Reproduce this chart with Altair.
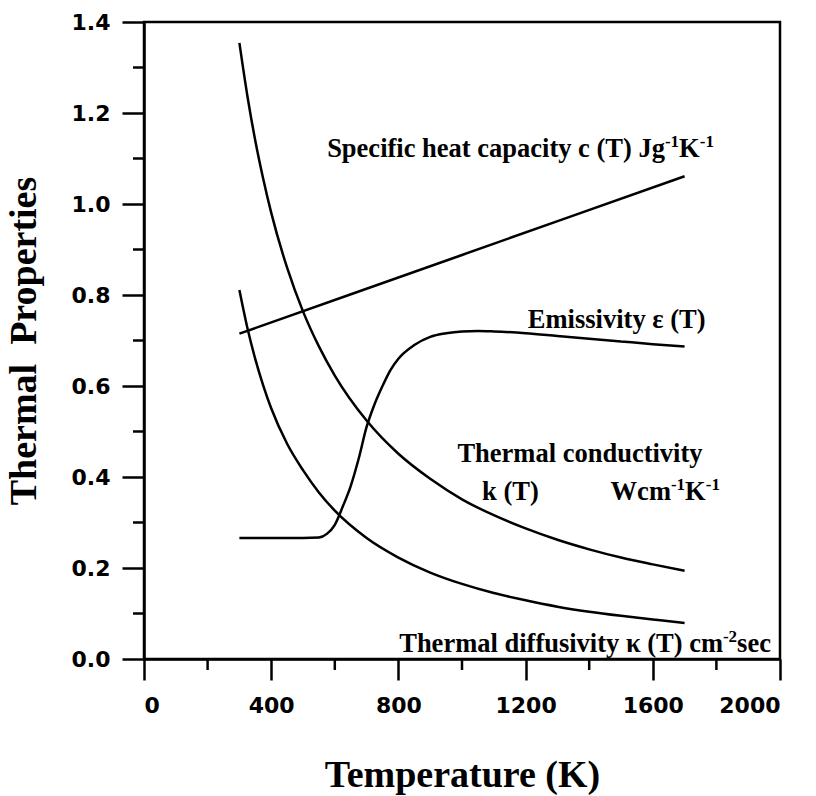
import altair as alt
import pandas as pd

# ---- data ----
T_main = [300, 325, 350, 375, 400, 450, 500, 550, 600, 700, 800, 900, 1000,
          1100, 1200, 1300, 1400, 1500, 1600, 1700]
k_vals = [1.354, 1.238, 1.139, 1.055, 0.981, 0.860, 0.764, 0.687, 0.623, 0.524,
          0.451, 0.396, 0.351, 0.316, 0.287, 0.262, 0.241, 0.223, 0.208, 0.194]
kappa_vals = [0.811, 0.728, 0.659, 0.601, 0.551, 0.473, 0.415, 0.366, 0.326, 0.266,
              0.223, 0.190, 0.165, 0.145, 0.129, 0.115, 0.104, 0.095, 0.087, 0.079]

T_eps = [300, 400, 500, 550, 575, 600, 625, 650, 675, 700, 725, 750, 775, 800,
         850, 900, 950, 1000, 1050, 1100, 1200, 1300, 1400, 1500, 1600, 1700]
eps_vals = [0.266, 0.266, 0.266, 0.267, 0.275, 0.295, 0.335, 0.380, 0.440, 0.510,
            0.560, 0.600, 0.635, 0.660, 0.690, 0.708, 0.716, 0.720, 0.721, 0.720,
            0.716, 0.710, 0.704, 0.698, 0.692, 0.687]

T_c = [300, 1000, 1700]
c_vals = [0.715, 0.888, 1.061]

x_major = [0, 400, 800, 1200, 1600, 2000]
x_minor = [200, 600, 1000, 1400, 1800]
y_major = [0.0, 0.2, 0.4, 0.6, 0.8, 1.0, 1.2, 1.4]
y_minor = [0.1, 0.3, 0.5, 0.7, 0.9, 1.1, 1.3]

rows = []
for name, ts, vs in [("k", T_main, k_vals), ("kappa", T_main, kappa_vals),
                     ("eps", T_eps, eps_vals), ("c", T_c, c_vals)]:
    for t, v in zip(ts, vs):
        rows.append({"series": name, "T": t, "v": v})
df = pd.DataFrame(rows)

W, H = 636, 637
xs = alt.Scale(domain=[0, 2000], nice=False, zero=False)
ys = alt.Scale(domain=[0, 1.4], nice=False, zero=False)

FONT = "Liberation Serif"
FS = 26.5
SUP = 17

lines = alt.Chart(df).mark_line(color="black", strokeWidth=2.5, interpolate="monotone").encode(
    x=alt.X("T:Q", scale=xs, axis=alt.Axis(
        values=x_major, format="d", tickSize=21, labelPadding=15, title="Temperature (K)",
        titleX=W / 2, titleY=127, titleBaseline="alphabetic", titleAnchor="middle")),
    y=alt.Y("v:Q", scale=ys, axis=alt.Axis(
        values=y_major, format=".1f", tickSize=22, labelPadding=12,
        title="Thermal\u00a0 Properties", titleX=-109, titleY=H / 2,
        titleBaseline="alphabetic", titleAngle=270)),
    detail="series:N",
)

mx = alt.Chart(pd.DataFrame({"T": x_minor})).mark_rule(color="black", strokeWidth=2.5).encode(
    x=alt.X("T:Q", scale=xs), y=alt.value(H), y2=alt.value(H + 11))
my = alt.Chart(pd.DataFrame({"v": y_minor})).mark_rule(color="black", strokeWidth=2.5).encode(
    y=alt.Y("v:Q", scale=ys), x=alt.value(0), x2=alt.value(-11))

# Times-Bold advance widths (per 1000 em) for layout of rich labels
WID = {" ": 250, "S": 556, "p": 556, "e": 444, "c": 444, "i": 278, "f": 333, "h": 556,
       "a": 500, "t": 333, "y": 500, "(": 333, ")": 333, "T": 667, "J": 500, "g": 500,
       "-": 333, "1": 500, "2": 500, "K": 778, "E": 667, "m": 833, "s": 389, "v": 500,
       "\u03b5": 440, "\u03ba": 550, "l": 278, "o": 500, "n": 556, "d": 556, "u": 556,
       "r": 444, "k": 556, "W": 1000}


def seg_width(text, size):
    return sum(WID.get(ch, 500) for ch in text) * size / 1000.0


def rich(segments, t, v, anchor="center"):
    """segments: list of (text, is_superscript)"""
    total = sum(seg_width(s, SUP if sup else FS) for s, sup in segments)
    off = {"center": -total / 2, "left": 0, "right": -total}[anchor]
    out = []
    for s, sup in segments:
        size = SUP if sup else FS
        out.append(alt.Chart(pd.DataFrame({"a": [0]})).mark_text(
            font=FONT, fontSize=size, fontWeight="bold", color="black",
            align="left", baseline="alphabetic", dx=off, dy=-10 if sup else 0).encode(
            x=alt.datum(t, scale=xs), y=alt.datum(v, scale=ys),
            text=alt.value(s.replace(" ", "\u00a0"))))
        off += seg_width(s, size)
    return out


labels = []
labels += rich([("Specific heat capacity c (T) Jg", False), ("-1", True), ("K", False), ("-1", True)],
               1184, 1.103)
labels += rich([("Emissivity \u03b5 (T)", False)], 1487, 0.7275)
labels += rich([("Thermal conductivity", False)], 1371, 0.432)
labels += rich([("k (T)", False)], 1063, 0.350, "left")
labels += rich([("Wcm", False), ("-1", True), ("K", False), ("-1", True)], 1811, 0.350, "right")
labels += rich([("Thermal diffusivity \u03ba (T) cm", False), ("-2", True), ("sec", False)],
               1387, 0.0154)

chart = alt.layer(lines, mx, my, *labels).properties(
    width=W, height=H,
    autosize=alt.AutoSizeParams(type="none"),
    padding={"left": 144, "top": 22, "right": 36, "bottom": 137},
    background="white",
).configure_view(stroke="black", strokeWidth=2.5).configure_axis(
    grid=False, domainColor="black", domainWidth=2.5, tickColor="black", tickWidth=2.5,
    labelFont="DejaVu Sans", labelFontWeight="bold", labelFontSize=22, labelColor="black",
    titleFont=FONT, titleFontWeight="bold", titleFontSize=38, titleColor="black",
)

chart.save("out.html", embed_options={"renderer": "svg", "actions": False})
